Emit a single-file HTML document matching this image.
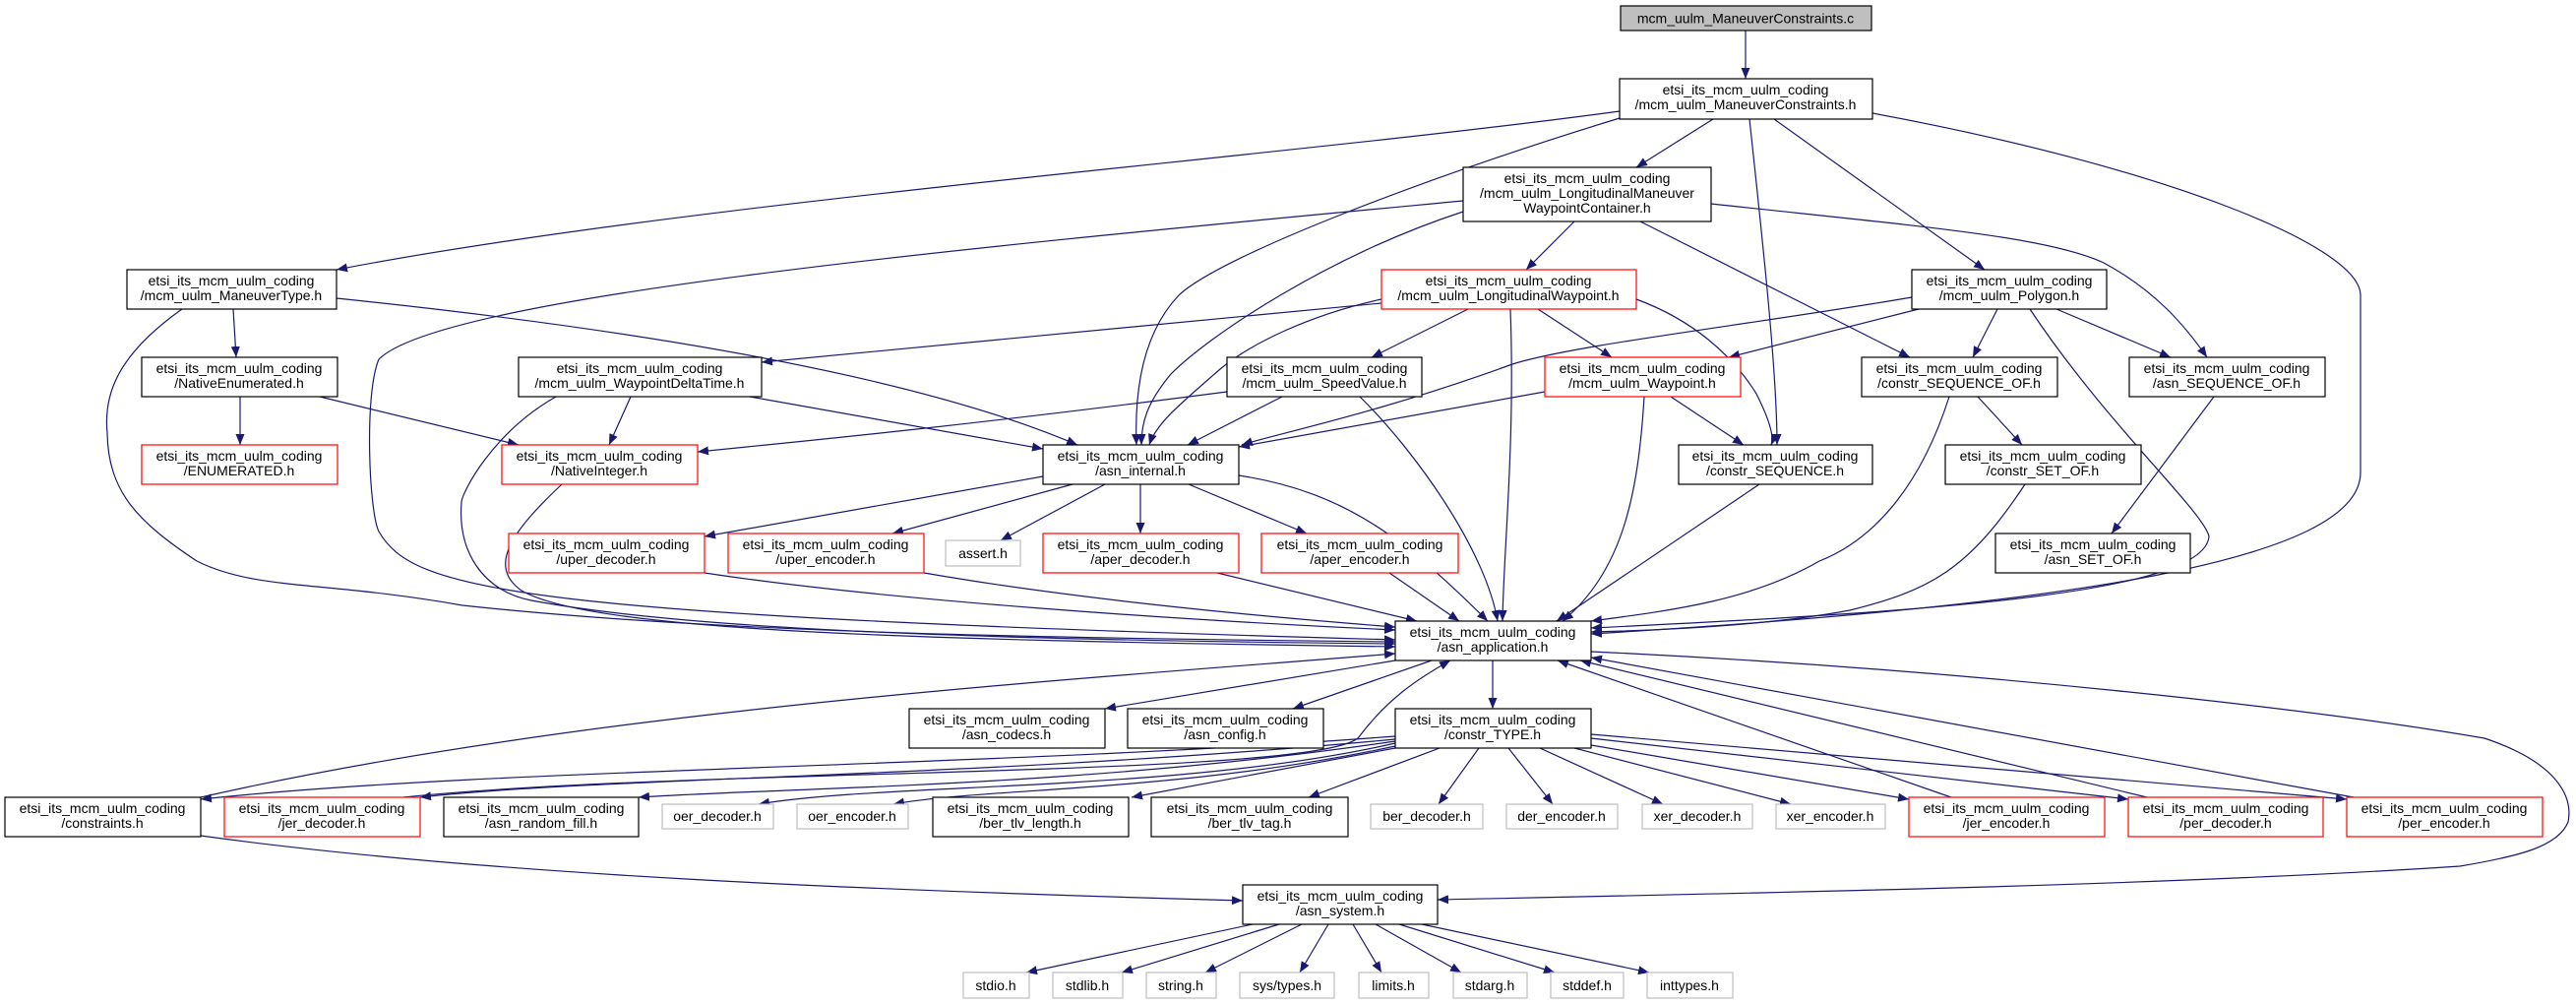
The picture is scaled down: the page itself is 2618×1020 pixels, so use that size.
<!DOCTYPE html>
<html><head><meta charset="utf-8"><style>
html,body{margin:0;padding:0;background:#fff;}
svg{display:block;}
text{font-family:"Liberation Sans",sans-serif;font-size:14px;fill:#000;text-anchor:middle;}
.n{fill:#fff;stroke:#000;stroke-width:1.2;}
.r{fill:#fff;stroke:#ff0000;stroke-width:1.2;}
.g{fill:#fff;stroke:#bfbfbf;stroke-width:1.2;}
.e{fill:none;stroke:#191970;stroke-width:1.2;marker-end:url(#a);}
</style></head><body>
<svg width="2618" height="1020" viewBox="0 0 2618 1020" xmlns="http://www.w3.org/2000/svg">
<defs><marker id="a" markerUnits="userSpaceOnUse" markerWidth="12" markerHeight="9" refX="11" refY="4.5" orient="auto"><path d="M0,0 L11,4.5 L0,9 z" fill="#191970"/></marker></defs>

<g>
<!-- edges -->
<path class="e" d="M1774,31 L1774,80"/>
<path class="e" d="M1646,113 C1300,160 700,205 342,274"/>
<path class="e" d="M1646,120 C1450,180 1240,260 1198,300 C1160,340 1153,400 1155,452"/>
<path class="e" d="M1741,121 L1663,170"/>
<path class="e" d="M1778,121 C1792,250 1806,380 1806,452"/>
<path class="e" d="M1803,121 L2017,274"/>
<path class="e" d="M1903,115 C2200,170 2399,250 2399,300 L2399,480 C2399,570 2100,615 1617,644"/>
<path class="e" d="M1487,204 C1000,250 450,300 385,365 C370,400 375,520 385,540 C420,600 520,625 1418,650"/>
<path class="e" d="M1487,215 C1350,260 1230,340 1190,380 C1165,410 1160,430 1160,452"/>
<path class="e" d="M1600,225 L1551,274"/>
<path class="e" d="M1667,225 L1941,363"/>
<path class="e" d="M1739,207 C1950,230 2080,240 2138,267 C2190,295 2220,330 2243,363"/>
<path class="e" d="M237,314 L240,363"/>
<path class="e" d="M185,314 C120,360 105,400 109,440 C110,500 140,530 200,570 C260,600 330,590 470,615 C700,640 1000,648 1418,652"/>
<path class="e" d="M342,303 C700,340 950,390 1095,452"/>
<path class="e" d="M244,403 L244,452"/>
<path class="e" d="M325,403 L527,452"/>
<path class="e" d="M641,403 L619,452"/>
<path class="e" d="M762,403 L1060,456"/>
<path class="e" d="M565,403 C500,440 470,500 469,510 C465,560 490,600 540,610 C700,640 1000,650 1418,654"/>
<path class="e" d="M1404,308 L774,368"/>
<path class="e" d="M1404,304 C1330,320 1270,350 1240,375 C1200,410 1175,430 1168,452"/>
<path class="e" d="M1492,314 L1394,363"/>
<path class="e" d="M1563,314 L1638,363"/>
<path class="e" d="M1535,314 C1540,450 1528,560 1527,631"/>
<path class="e" d="M1663,304 C1720,325 1760,360 1785,400 C1800,430 1803,445 1800,452"/>
<path class="e" d="M1950,314 L1757,363"/>
<path class="e" d="M1943,302 C1780,330 1600,350 1537,370 C1400,420 1300,440 1262,452"/>
<path class="e" d="M2030,314 L2005,363"/>
<path class="e" d="M2090,314 L2206,363"/>
<path class="e" d="M2063,314 C2140,430 2240,520 2245,545 C2240,600 2000,620 1617,638"/>
<path class="e" d="M1247,398 C1000,430 850,445 709,459"/>
<path class="e" d="M1303,403 L1207,452"/>
<path class="e" d="M1382,403 C1440,460 1510,560 1522,631"/>
<path class="e" d="M1570,398 L1259,454"/>
<path class="e" d="M1671,403 C1665,500 1650,580 1588,631"/>
<path class="e" d="M1698,403 L1772,452"/>
<path class="e" d="M1060,484 L716,545"/>
<path class="e" d="M1090,492 L907,542"/>
<path class="e" d="M1123,492 L1017,549"/>
<path class="e" d="M1159,492 L1159,542"/>
<path class="e" d="M1208,492 L1328,542"/>
<path class="e" d="M1259,483 C1370,500 1430,550 1512,631"/>
<path class="e" d="M2010,403 L2055,452"/>
<path class="e" d="M1981,403 C1950,500 1900,550 1849,570 C1780,610 1700,620 1617,631"/>
<path class="e" d="M2250,403 L2146,542"/>
<path class="e" d="M1788,492 L1582,631"/>
<path class="e" d="M2058,492 C2000,580 1960,600 1880,620 C1800,635 1700,640 1617,642"/>
<path class="e" d="M716,582 C900,610 1200,630 1418,640"/>
<path class="e" d="M939,582 C1100,610 1300,628 1418,637"/>
<path class="e" d="M1237,582 L1440,631"/>
<path class="e" d="M1412,582 L1483,631"/>
<path class="e" d="M571,492 C520,540 495,575 530,600 C600,640 900,650 1418,657"/>
<path class="e" d="M1517,671 L1517,720"/>
<path class="e" d="M1418,671 L1123,720"/>
<path class="e" d="M1455,671 L1314,720"/>
<path class="e" d="M1617,662 C2000,680 2350,720 2525,750 C2600,775 2615,810 2610,835 C2600,860 2560,870 2500,880 C2200,900 1750,908 1461,914"/>
<path class="e" d="M204,810 C600,720 1100,690 1418,664"/>
<path class="e" d="M204,849 C500,890 900,905 1263,915"/>
<path class="e" d="M410,810 C700,780 1330,790 1380,750 C1410,710 1440,690 1474,671"/>
<path class="e" d="M1983,810 L1583,671"/>
<path class="e" d="M2182,810 L1606,671"/>
<path class="e" d="M2392,810 L1617,668"/>
<path class="e" d="M1418,748 C1000,780 500,780 204,812"/>
<path class="e" d="M1418,751 C1000,790 600,790 427,810"/>
<path class="e" d="M1418,753 C1100,800 800,800 649,810"/>
<path class="e" d="M1418,755 C1200,805 900,795 771,817"/>
<path class="e" d="M1418,758 C1200,805 1000,800 908,817"/>
<path class="e" d="M1418,760 L1150,810"/>
<path class="e" d="M1463,760 L1330,810"/>
<path class="e" d="M1503,760 L1462,817"/>
<path class="e" d="M1533,760 L1578,817"/>
<path class="e" d="M1565,760 L1690,817"/>
<path class="e" d="M1600,760 L1820,817"/>
<path class="e" d="M1617,757 L1940,812"/>
<path class="e" d="M1617,750 L2163,812"/>
<path class="e" d="M1617,746 L2385,812"/>
<path class="e" d="M1273,939 L1043,988"/>
<path class="e" d="M1300,939 L1140,988"/>
<path class="e" d="M1323,939 L1225,988"/>
<path class="e" d="M1350,939 L1321,988"/>
<path class="e" d="M1375,939 L1404,988"/>
<path class="e" d="M1398,939 L1485,988"/>
<path class="e" d="M1422,939 L1580,988"/>
<path class="e" d="M1445,939 L1676,988"/>
</g>

<g>
<!-- nodes -->
<rect x="1647" y="6" width="255" height="25" fill="#bfbfbf" stroke="#000" stroke-width="1.2"/><text x="1774" y="23.5">mcm_uulm_ManeuverConstraints.c</text>
<rect class="n" x="1646" y="80" width="257" height="41"/><text x="1774" y="96">etsi_its_mcm_uulm_coding</text><text x="1774" y="111">/mcm_uulm_ManeuverConstraints.h</text>
<rect class="n" x="1487" y="170" width="252" height="55"/><text x="1613" y="186">etsi_its_mcm_uulm_coding</text><text x="1613" y="201">/mcm_uulm_LongitudinalManeuver</text><text x="1613" y="216">WaypointContainer.h</text>
<rect class="n" x="129" y="274" width="213" height="40"/><text x="235" y="290">etsi_its_mcm_uulm_coding</text><text x="235" y="305">/mcm_uulm_ManeuverType.h</text>
<rect class="r" x="1404" y="274" width="259" height="40"/><text x="1533" y="290">etsi_its_mcm_uulm_coding</text><text x="1533" y="305">/mcm_uulm_LongitudinalWaypoint.h</text>
<rect class="n" x="1943" y="274" width="198" height="40"/><text x="2042" y="290">etsi_its_mcm_uulm_coding</text><text x="2042" y="305">/mcm_uulm_Polygon.h</text>
<rect class="n" x="144" y="363" width="199" height="40"/><text x="243" y="379">etsi_its_mcm_uulm_coding</text><text x="243" y="394">/NativeEnumerated.h</text>
<rect class="n" x="527" y="363" width="247" height="40"/><text x="650" y="379">etsi_its_mcm_uulm_coding</text><text x="650" y="394">/mcm_uulm_WaypointDeltaTime.h</text>
<rect class="n" x="1247" y="363" width="198" height="40"/><text x="1346" y="379">etsi_its_mcm_uulm_coding</text><text x="1346" y="394">/mcm_uulm_SpeedValue.h</text>
<rect class="r" x="1570" y="363" width="199" height="40"/><text x="1669" y="379">etsi_its_mcm_uulm_coding</text><text x="1669" y="394">/mcm_uulm_Waypoint.h</text>
<rect class="n" x="1892" y="363" width="199" height="40"/><text x="1991" y="379">etsi_its_mcm_uulm_coding</text><text x="1991" y="394">/constr_SEQUENCE_OF.h</text>
<rect class="n" x="2164" y="363" width="199" height="40"/><text x="2263" y="379">etsi_its_mcm_uulm_coding</text><text x="2263" y="394">/asn_SEQUENCE_OF.h</text>
<rect class="r" x="144" y="452" width="199" height="40"/><text x="243" y="468">etsi_its_mcm_uulm_coding</text><text x="243" y="483">/ENUMERATED.h</text>
<rect class="r" x="510" y="452" width="199" height="40"/><text x="609" y="468">etsi_its_mcm_uulm_coding</text><text x="609" y="483">/NativeInteger.h</text>
<rect class="n" x="1060" y="452" width="199" height="40"/><text x="1159" y="468">etsi_its_mcm_uulm_coding</text><text x="1159" y="483">/asn_internal.h</text>
<rect class="n" x="1706" y="452" width="197" height="40"/><text x="1804" y="468">etsi_its_mcm_uulm_coding</text><text x="1804" y="483">/constr_SEQUENCE.h</text>
<rect class="n" x="1977" y="452" width="199" height="40"/><text x="2076" y="468">etsi_its_mcm_uulm_coding</text><text x="2076" y="483">/constr_SET_OF.h</text>
<rect class="r" x="517" y="542" width="199" height="40"/><text x="616" y="558">etsi_its_mcm_uulm_coding</text><text x="616" y="573">/uper_decoder.h</text>
<rect class="r" x="740" y="542" width="199" height="40"/><text x="839" y="558">etsi_its_mcm_uulm_coding</text><text x="839" y="573">/uper_encoder.h</text>
<rect class="g" x="961" y="549" width="76" height="26"/><text x="999" y="567">assert.h</text>
<rect class="r" x="1060" y="542" width="199" height="40"/><text x="1159" y="558">etsi_its_mcm_uulm_coding</text><text x="1159" y="573">/aper_decoder.h</text>
<rect class="r" x="1282" y="542" width="200" height="40"/><text x="1382" y="558">etsi_its_mcm_uulm_coding</text><text x="1382" y="573">/aper_encoder.h</text>
<rect class="n" x="2028" y="542" width="198" height="40"/><text x="2127" y="558">etsi_its_mcm_uulm_coding</text><text x="2127" y="573">/asn_SET_OF.h</text>
<rect class="n" x="1418" y="631" width="199" height="40"/><text x="1517" y="647">etsi_its_mcm_uulm_coding</text><text x="1517" y="662">/asn_application.h</text>
<rect class="n" x="924" y="720" width="199" height="40"/><text x="1023" y="736">etsi_its_mcm_uulm_coding</text><text x="1023" y="751">/asn_codecs.h</text>
<rect class="n" x="1146" y="720" width="199" height="40"/><text x="1245" y="736">etsi_its_mcm_uulm_coding</text><text x="1245" y="751">/asn_config.h</text>
<rect class="n" x="1418" y="720" width="199" height="40"/><text x="1517" y="736">etsi_its_mcm_uulm_coding</text><text x="1517" y="751">/constr_TYPE.h</text>
<rect class="n" x="5" y="810" width="199" height="40"/><text x="104" y="826">etsi_its_mcm_uulm_coding</text><text x="104" y="841">/constraints.h</text>
<rect class="r" x="228" y="810" width="199" height="40"/><text x="327" y="826">etsi_its_mcm_uulm_coding</text><text x="327" y="841">/jer_decoder.h</text>
<rect class="n" x="451" y="810" width="198" height="40"/><text x="550" y="826">etsi_its_mcm_uulm_coding</text><text x="550" y="841">/asn_random_fill.h</text>
<rect class="g" x="673" y="817" width="113" height="25"/><text x="729" y="834">oer_decoder.h</text>
<rect class="g" x="810" y="817" width="113" height="25"/><text x="866" y="834">oer_encoder.h</text>
<rect class="n" x="948" y="810" width="199" height="40"/><text x="1047" y="826">etsi_its_mcm_uulm_coding</text><text x="1047" y="841">/ber_tlv_length.h</text>
<rect class="n" x="1170" y="810" width="200" height="40"/><text x="1270" y="826">etsi_its_mcm_uulm_coding</text><text x="1270" y="841">/ber_tlv_tag.h</text>
<rect class="g" x="1393" y="817" width="114" height="25"/><text x="1450" y="834">ber_decoder.h</text>
<rect class="g" x="1531" y="817" width="113" height="25"/><text x="1587" y="834">der_encoder.h</text>
<rect class="g" x="1669" y="817" width="112" height="25"/><text x="1725" y="834">xer_decoder.h</text>
<rect class="g" x="1805" y="817" width="111" height="25"/><text x="1860" y="834">xer_encoder.h</text>
<rect class="r" x="1940" y="810" width="199" height="40"/><text x="2039" y="826">etsi_its_mcm_uulm_coding</text><text x="2039" y="841">/jer_encoder.h</text>
<rect class="r" x="2163" y="810" width="198" height="40"/><text x="2262" y="826">etsi_its_mcm_uulm_coding</text><text x="2262" y="841">/per_decoder.h</text>
<rect class="r" x="2385" y="810" width="199" height="40"/><text x="2484" y="826">etsi_its_mcm_uulm_coding</text><text x="2484" y="841">/per_encoder.h</text>
<rect class="n" x="1263" y="899" width="198" height="40"/><text x="1362" y="915">etsi_its_mcm_uulm_coding</text><text x="1362" y="930">/asn_system.h</text>
<rect class="g" x="979" y="988" width="67" height="26"/><text x="1012" y="1006">stdio.h</text>
<rect class="g" x="1070" y="988" width="71" height="26"/><text x="1105" y="1006">stdlib.h</text>
<rect class="g" x="1165" y="988" width="71" height="26"/><text x="1200" y="1006">string.h</text>
<rect class="g" x="1260" y="988" width="96" height="26"/><text x="1308" y="1006">sys/types.h</text>
<rect class="g" x="1381" y="988" width="71" height="26"/><text x="1416" y="1006">limits.h</text>
<rect class="g" x="1477" y="988" width="75" height="26"/><text x="1514" y="1006">stdarg.h</text>
<rect class="g" x="1576" y="988" width="74" height="26"/><text x="1613" y="1006">stddef.h</text>
<rect class="g" x="1674" y="988" width="87" height="26"/><text x="1717" y="1006">inttypes.h</text>
</g>
</svg>
</body></html>
